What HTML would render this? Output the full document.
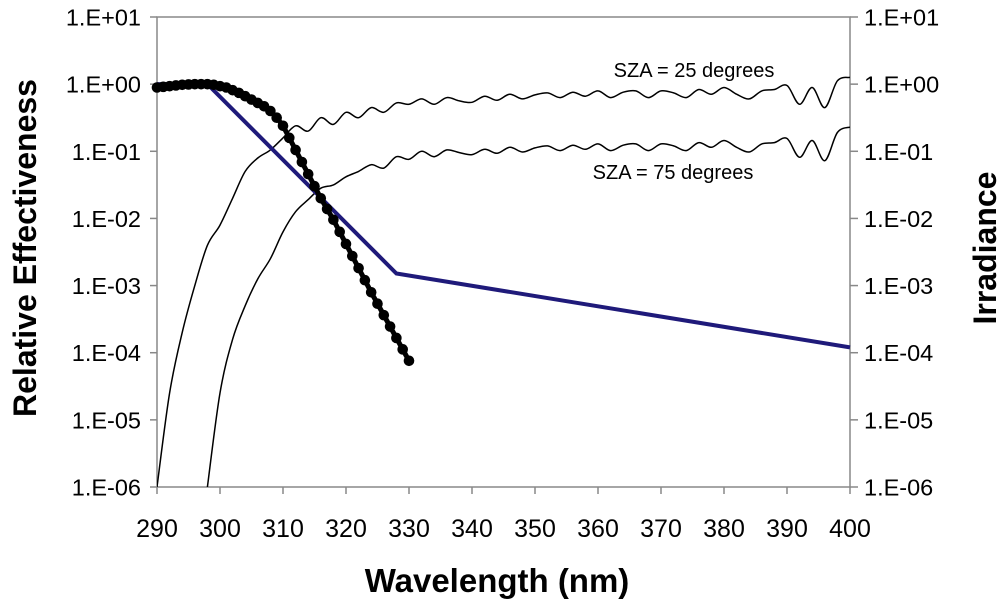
<!DOCTYPE html>
<html><head><meta charset="utf-8"><style>
html,body{margin:0;padding:0;background:#fff;}
svg{display:block;font-family:"Liberation Sans",Arial,sans-serif;}
</style></head><body>
<svg id="chart" width="1000" height="604" viewBox="0 0 1000 604">
<g id="axes"></g>
<g id="series"></g>
<text x="694" y="77" font-size="20" text-anchor="middle">SZA = 25 degrees</text>
<text x="673" y="179" font-size="20" text-anchor="middle">SZA = 75 degrees</text>
<text transform="translate(36,248) rotate(-90)" font-size="32" font-weight="bold" text-anchor="middle">Relative Effectiveness</text>
<text transform="translate(996,248) rotate(-90)" font-size="32" font-weight="bold" text-anchor="middle">Irradiance</text>
<text x="497" y="592" font-size="33" font-weight="bold" text-anchor="middle">Wavelength (nm)</text>
</svg>
<script>
const xTicks=[290,300,310,320,330,340,350,360,370,380,390,400];
const yTickExps=[1,0,-1,-2,-3,-4,-5,-6];
const yTickLabels=["1.E+01","1.E+00","1.E-01","1.E-02","1.E-03","1.E-04","1.E-05","1.E-06"];
// blue action spectrum (wavelength, log10 value)
const blueWl=[290,298,328,400];
const blueLog=[0,0,-2.82,-3.92];
// dotted spectrum, 290..330 step 1, log10 values
const dotStart=290;
const dotLog=[-0.05,-0.04,-0.03,-0.02,-0.01,-0.005,0,0,0,-0.01,-0.03,-0.05,-0.09,-0.13,-0.18,-0.23,-0.28,-0.33,-0.40,-0.50,-0.62,-0.80,-0.98,-1.16,-1.34,-1.52,-1.70,-1.86,-2.02,-2.20,-2.38,-2.56,-2.74,-2.92,-3.10,-3.27,-3.44,-3.61,-3.78,-3.95,-4.12];
// irradiance SZA 25, 290..400 step 2, log10
const sza25Start=290;
const sza25Log=[-6.0,-4.6,-3.7,-3.0,-2.4,-2.1,-1.7,-1.3,-1.1,-0.98,-0.8,-0.62,-0.7,-0.5,-0.6,-0.42,-0.5,-0.35,-0.42,-0.28,-0.3,-0.22,-0.3,-0.2,-0.25,-0.27,-0.18,-0.24,-0.15,-0.22,-0.16,-0.13,-0.2,-0.12,-0.18,-0.1,-0.2,-0.12,-0.1,-0.2,-0.1,-0.13,-0.2,-0.08,-0.15,-0.05,-0.15,-0.22,-0.1,-0.08,-0.02,-0.3,-0.05,-0.35,0.05,0.1];
// irradiance SZA 75, 298..400 step 2, log10
const sza75Start=298;
const sza75Log=[-6.0,-4.6,-3.8,-3.3,-2.9,-2.6,-2.2,-1.9,-1.72,-1.55,-1.5,-1.38,-1.3,-1.2,-1.25,-1.08,-1.12,-1.0,-1.08,-0.98,-1.02,-1.05,-0.97,-1.03,-0.94,-1.01,-0.95,-0.92,-0.99,-0.91,-0.97,-0.89,-0.99,-0.91,-0.89,-0.99,-0.89,-0.92,-0.99,-0.87,-0.94,-0.84,-0.94,-1.01,-0.89,-0.87,-0.81,-1.09,-0.84,-1.14,-0.72,-0.64];

const X0=157,X1=850,Y0=17,Y1=487;
const xs=w=>X0+(w-290)/(400-290)*(X1-X0);
const ys=l=>Y0+(1-l)/7*(Y1-Y0);
const NS="http://www.w3.org/2000/svg";
function mk(tag,attrs,parent){const e=document.createElementNS(NS,tag);for(const k in attrs)e.setAttribute(k,attrs[k]);parent.appendChild(e);return e;}
const ax=document.getElementById('axes'), se=document.getElementById('series');

let e=mk('rect',{x:X0,y:Y0,width:X1-X0,height:Y1-Y0,fill:'none',stroke:'#888','stroke-width':1.5},ax);


yTickExps.forEach((p,i)=>{
  const y=ys(p);
  let t=mk('line',{x1:X0-7,x2:X0,y1:y,y2:y,stroke:'#888','stroke-width':1.5},ax);
  
  
  t=mk('line',{x1:X1,x2:X1+8,y1:y,y2:y,stroke:'#888','stroke-width':1.5},ax);
  
  
  let l=mk('text',{x:141,y:y+8.5,'font-size':23.5,'text-anchor':'end'},ax);l.textContent=yTickLabels[i];
  
  
  l=mk('text',{x:864,y:y+8.5,'font-size':23.5},ax);l.textContent=yTickLabels[i];
  
  
});
xTicks.forEach(w=>{
  const x=xs(w);
  let t=mk('line',{x1:x,x2:x,y1:Y1,y2:Y1+7,stroke:'#888','stroke-width':1.5},ax);
  
  
  let l=mk('text',{x:x,y:537,'font-size':25,'text-anchor':'middle'},ax);l.textContent=w;
  
  
});

const defs=mk('defs',{},document.getElementById('chart'));
const cp=mk('clipPath',{id:'clip'},defs);
mk('rect',{x:X0,y:Y0,width:X1-X0,height:Y1-Y0},cp);

function smoothPath(pts){
  let d='M'+pts[0][0]+','+pts[0][1];
  for(let i=0;i<pts.length-1;i++){
    const p0=pts[Math.max(i-1,0)],p1=pts[i],p2=pts[i+1],p3=pts[Math.min(i+2,pts.length-1)];
    const c1=[p1[0]+(p2[0]-p0[0])/6,p1[1]+(p2[1]-p0[1])/6];
    const c2=[p2[0]-(p3[0]-p1[0])/6,p2[1]-(p3[1]-p1[1])/6];
    d+=' C'+c1[0].toFixed(1)+','+c1[1].toFixed(1)+' '+c2[0].toFixed(1)+','+c2[1].toFixed(1)+' '+p2[0].toFixed(1)+','+p2[1].toFixed(1);
  }
  return d;
}
function irr(start,arr,name){
  const pts=arr.map((v,i)=>[xs(start+2*i),ys(v)]);
  const p=mk('path',{d:smoothPath(pts),fill:'none',stroke:'#000','stroke-width':1.5,'clip-path':'url(#clip)'},se);
  
  
}
irr(sza25Start,sza25Log,'irradiance-sza-25');
irr(sza75Start,sza75Log,'irradiance-sza-75');

const bl=mk('polyline',{points:blueWl.map((w,i)=>xs(w)+','+ys(blueLog[i])).join(' '),fill:'none',stroke:'#1f1a7a','stroke-width':4},se);



const dl=mk('polyline',{points:dotLog.map((v,i)=>xs(dotStart+i)+','+ys(v)).join(' '),fill:'none',stroke:'#000','stroke-width':5},se);


dotLog.forEach((v,i)=>{
  const c=mk('circle',{cx:xs(dotStart+i),cy:ys(v),r:5.3,fill:'#000'},se);
  
  
});
</script>
</body></html>
